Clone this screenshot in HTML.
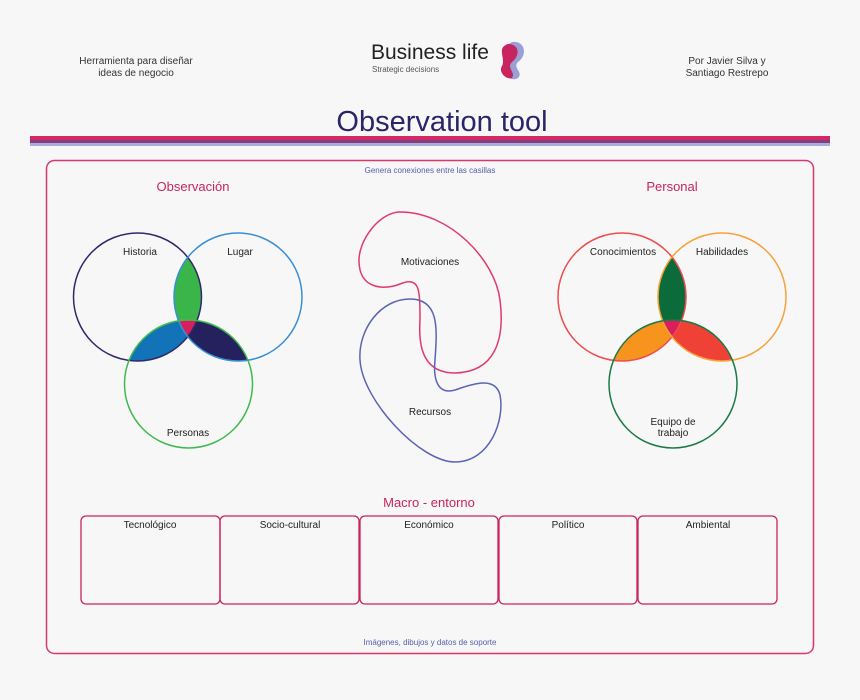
<!DOCTYPE html>
<html><head><meta charset="utf-8"><style>
html,body{margin:0;padding:0;background:#f7f7f7;}
svg{display:block;}
text{font-family:"Liberation Sans",sans-serif;}
</style></head><body>
<svg width="860" height="700" viewBox="0 0 860 700" xmlns="http://www.w3.org/2000/svg">
<rect width="860" height="700" fill="#f7f7f7"/>
<text x="136" y="64" font-size="10" text-anchor="middle" fill="#333">Herramienta para diseñar</text>
<text x="136" y="76" font-size="10" text-anchor="middle" fill="#333">ideas de negocio</text>
<text x="727" y="64" font-size="10" text-anchor="middle" fill="#333">Por Javier Silva y</text>
<text x="727" y="76" font-size="10" text-anchor="middle" fill="#333">Santiago Restrepo</text>
<text x="371" y="59" font-size="21" fill="#222">Business life</text>
<text x="372" y="72" font-size="8" fill="#555">Strategic decisions</text>
<path d="M512,42 C525,40 528,55 518,62 C512,68 524,72 518,78 C512,82 502,76 505,68 C508,60 498,50 512,42Z" fill="#9aa0d6"/>
<path d="M508,44 C520,44 520,56 512,62 C506,68 516,72 512,78 C506,80 498,72 502,66 C506,58 496,48 508,44Z" fill="#c8245e"/>
<text x="442" y="131" font-size="29" text-anchor="middle" fill="#2a2468">Observation tool</text>
<rect x="30" y="136" width="800" height="4" fill="#cf2a64"/>
<rect x="30" y="140" width="800" height="3" fill="#8a3a7e"/>
<rect x="30" y="143" width="800" height="3" fill="#a6aede"/>
<rect x="46.5" y="160.5" width="767" height="493" rx="8" fill="none" stroke="#d8386c" stroke-width="1.5"/>
<text x="430" y="173" font-size="8" text-anchor="middle" fill="#5560aa">Genera conexiones entre las casillas</text>
<text x="430" y="645" font-size="8" text-anchor="middle" fill="#5560aa">Imágenes, dibujos y datos de soporte</text>
<text x="193" y="191" font-size="13" text-anchor="middle" fill="#c8245e">Observación</text>
<text x="672" y="191" font-size="13" text-anchor="middle" fill="#c8245e">Personal</text>
<defs>
<clipPath id="a1"><circle cx="137.5" cy="297" r="64"/></clipPath>
<clipPath id="b1"><circle cx="238" cy="297" r="64"/></clipPath>
<clipPath id="c1"><circle cx="188.5" cy="384" r="64"/></clipPath>
<clipPath id="a2"><circle cx="622" cy="297" r="64"/></clipPath>
<clipPath id="b2"><circle cx="722" cy="297" r="64"/></clipPath>
<clipPath id="c2"><circle cx="673" cy="384" r="64"/></clipPath>
</defs>
<g clip-path="url(#a1)"><circle cx="238" cy="297" r="64" fill="#3ab54a"/><circle cx="188.5" cy="384" r="64" fill="#1273b9"/></g>
<g clip-path="url(#b1)"><circle cx="188.5" cy="384" r="64" fill="#25215e"/></g>
<g clip-path="url(#a1)"><g clip-path="url(#b1)"><circle cx="188.5" cy="384" r="64" fill="#d81e5b"/></g></g>
<circle cx="137.5" cy="297" r="64" fill="none" stroke="#2d2a6a" stroke-width="1.5"/>
<circle cx="238" cy="297" r="64" fill="none" stroke="#3a8fd4" stroke-width="1.5"/>
<circle cx="188.5" cy="384" r="64" fill="none" stroke="#3fba4e" stroke-width="1.5"/>
<text x="140" y="255" font-size="10" text-anchor="middle" fill="#222">Historia</text>
<text x="240" y="255" font-size="10" text-anchor="middle" fill="#222">Lugar</text>
<text x="188" y="436" font-size="10" text-anchor="middle" fill="#222">Personas</text>
<g clip-path="url(#a2)"><circle cx="722" cy="297" r="64" fill="#0b6b3a"/><circle cx="673" cy="384" r="64" fill="#f7941d"/></g>
<g clip-path="url(#b2)"><circle cx="673" cy="384" r="64" fill="#ef4136"/></g>
<g clip-path="url(#a2)"><g clip-path="url(#b2)"><circle cx="673" cy="384" r="64" fill="#d81e5b"/></g></g>
<circle cx="622" cy="297" r="64" fill="none" stroke="#ef4c4c" stroke-width="1.5"/>
<circle cx="722" cy="297" r="64" fill="none" stroke="#f7a23a" stroke-width="1.5"/>
<circle cx="673" cy="384" r="64" fill="none" stroke="#1a7a45" stroke-width="1.5"/>
<text x="623" y="255" font-size="10" text-anchor="middle" fill="#222">Conocimientos</text>
<text x="722" y="255" font-size="10" text-anchor="middle" fill="#222">Habilidades</text>
<text x="673" y="425" font-size="10" text-anchor="middle" fill="#222">Equipo de</text>
<text x="673" y="436" font-size="10" text-anchor="middle" fill="#222">trabajo</text>
<path d="M400,212 C380,212 358,240 359,262 C360,290 385,290 400,284 C420,276 420,290 420,320 C418,350 425,373 455,373 C495,372 505,340 500,300 C495,260 450,212 400,212Z" fill="none" stroke="#e03a6a" stroke-width="1.5"/>
<path d="M410,299 C380,299 358,330 360,360 C362,400 420,462 455,462 C490,462 505,420 500,395 C495,375 470,385 455,390 C438,395 433,380 435,360 C437,330 440,299 410,299Z" fill="none" stroke="#5a64b4" stroke-width="1.5"/>
<text x="430" y="265" font-size="10" text-anchor="middle" fill="#222">Motivaciones</text>
<text x="430" y="415" font-size="10" text-anchor="middle" fill="#222">Recursos</text>
<text x="429" y="507" font-size="13" text-anchor="middle" fill="#c8245e">Macro - entorno</text>
<g fill="none" stroke="#c8245e" stroke-width="1.3">
<rect x="81" y="516" width="139" height="88" rx="5"/>
<rect x="220" y="516" width="139" height="88" rx="5"/>
<rect x="360" y="516" width="138" height="88" rx="5"/>
<rect x="499" y="516" width="138" height="88" rx="5"/>
<rect x="638" y="516" width="139" height="88" rx="5"/>
</g>
<g font-size="10" text-anchor="middle" fill="#222">
<text x="150" y="528">Tecnológico</text>
<text x="290" y="528">Socio-cultural</text>
<text x="429" y="528">Económico</text>
<text x="568" y="528">Político</text>
<text x="708" y="528">Ambiental</text>
</g>
</svg>
</body></html>
